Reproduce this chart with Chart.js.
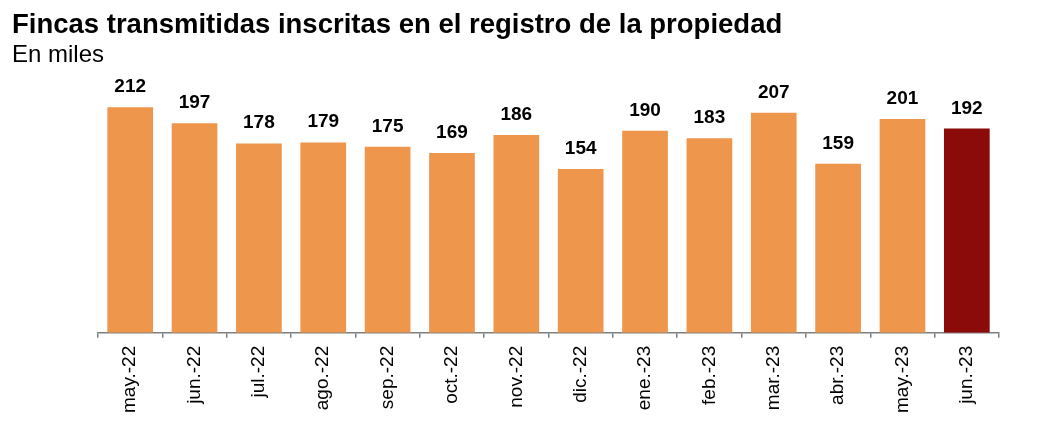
<!DOCTYPE html>
<html lang="es">
<head>
<meta charset="utf-8">
<title>Fincas transmitidas</title>
<script src="https://cdn.jsdelivr.net/npm/chart.js@4.4.1/dist/chart.umd.min.js"></script>
<style>
    html, body { margin: 0; padding: 0; background: #fff; }
    #wrap { width: 1041px; height: 444px; position: relative; }
</style>
</head>
<body>
<div id="wrap"><canvas id="fincasChart"></canvas></div>
<script>
const months = ['may.-22', 'jun.-22', 'jul.-22', 'ago.-22', 'sep.-22', 'oct.-22', 'nov.-22',
                'dic.-22', 'ene.-23', 'feb.-23', 'mar.-23', 'abr.-23', 'may.-23', 'jun.-23'];
const fincas = [212, 197, 178, 179, 175, 169, 186, 154, 190, 183, 207, 159, 201, 192];

const TITLE = 'Fincas transmitidas inscritas en el registro de la propiedad';
const SUBTITLE = 'En miles';

const ORANGE = '#EE964B';
const DARK_RED = '#8B0B0B';
const FONT = "'Liberation Sans', Arial, sans-serif";

// last month highlighted in dark red
const barColors = fincas.map((v, i) => i === fincas.length - 1 ? DARK_RED : ORANGE);

// Title and subtitle pinned to the left edge of the canvas
const headerText = {
    id: 'headerText',
    afterDraw(chart) {
        const ctx = chart.ctx;
        ctx.save();
        ctx.fillStyle = '#000';
        ctx.textAlign = 'left';
        ctx.textBaseline = 'alphabetic';
        ctx.font = `bold 27.5px ${FONT}`;
        ctx.fillText(TITLE, 12, 33);
        ctx.font = `24px ${FONT}`;
        ctx.fillText(SUBTITLE, 12, 62);
        ctx.restore();
    }
};

// Value labels above each bar
const valueLabels = {
    id: 'valueLabels',
    afterDatasetsDraw(chart) {
        const ctx = chart.ctx;
        const meta = chart.getDatasetMeta(0);
        ctx.save();
        ctx.font = `bold 19px ${FONT}`;
        ctx.fillStyle = '#000';
        ctx.textAlign = 'center';
        ctx.textBaseline = 'alphabetic';
        meta.data.forEach((bar, i) => {
            ctx.fillText(fincas[i], bar.x, bar.y - 15);
        });
        ctx.restore();
    }
};

const ctx = document.getElementById('fincasChart').getContext('2d');
const fincasChart = new Chart(ctx, {
    type: 'bar',
    data: {
        labels: months,
        datasets: [{
            data: fincas,
            backgroundColor: barColors,
            borderWidth: 0,
            barPercentage: 0.71,
            categoryPercentage: 1
        }]
    },
    options: {
        responsive: true,
        maintainAspectRatio: false,
        animation: false,
        layout: {
            padding: { left: 98, right: 42, top: 68, bottom: 23 }
        },
        plugins: {
            legend: { display: false },
            tooltip: { enabled: false }
        },
        scales: {
            x: {
                grid: {
                    display: true,
                    offset: true,
                    drawOnChartArea: false,
                    drawTicks: true,
                    tickLength: 5,
                    color: '#7f7f7f',
                    lineWidth: 1.5
                },
                border: { display: true, color: '#7f7f7f', width: 1.5 },
                ticks: {
                    color: '#000',
                    font: { family: FONT, size: 19 },
                    minRotation: 90,
                    maxRotation: 90,
                    padding: 8,
                    autoSkip: false
                }
            },
            y: {
                display: false,
                min: 0,
                max: 249
            }
        }
    },
    plugins: [valueLabels, headerText]
});
</script>
</body>
</html>
